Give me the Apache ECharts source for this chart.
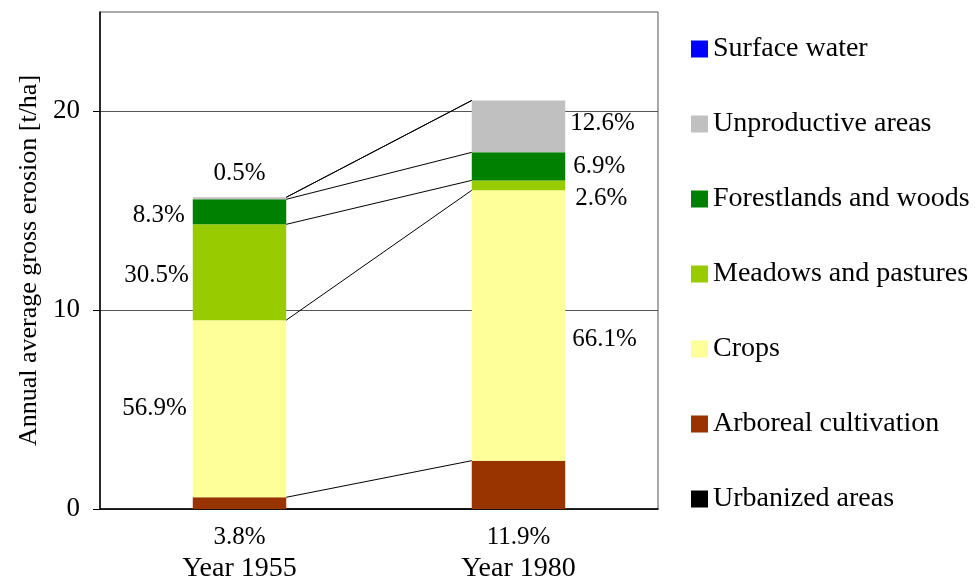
<!DOCTYPE html>
<html>
<head>
<meta charset="utf-8">
<script src="https://cdn.jsdelivr.net/npm/echarts@6/dist/echarts.min.js"></script>
<style>
  html, body { margin: 0; padding: 0; background: #fff; }
  #chart { width: 975px; height: 578px; }
</style>
</head>
<body>
<div id="chart"></div>
<script>
// categories
var years = ['Year 1955', 'Year 1980'];
var yTicks = [0, 10, 20];

// erosion per land use [t/ha], bottom to top of the stack
var urbanized = [0, 0];
var arboreal = [0.59, 2.43];
var crops = [8.91, 13.60];
var meadows = [4.82, 0.50];
var forest = [1.26, 1.41];
var unproductive = [0.10, 2.61];
var surfaceWater = [0, 0];

// percentage labels as printed
var arborealPct = ['3.8%', '11.9%'];
var cropsPct = ['56.9%', '66.1%'];
var meadowsPct = ['30.5%', '2.6%'];
var forestPct = ['8.3%', '6.9%'];
var unproductivePct = ['0.5%', '12.6%'];

var font = 'Liberation Serif, Times New Roman, serif';

var layers = [
  {name: 'Urbanized areas', data: urbanized, color: '#000000', pct: null},
  {name: 'Arboreal cultivation', data: arboreal, color: '#993300', pct: null},
  {name: 'Crops', data: crops, color: '#FFFF99', pct: cropsPct},
  {name: 'Meadows and pastures', data: meadows, color: '#99CC00', pct: meadowsPct},
  {name: 'Forestlands and woods', data: forest, color: '#008000', pct: forestPct},
  {name: 'Unproductive areas', data: unproductive, color: '#C0C0C0', pct: unproductivePct},
  {name: 'Surface water', data: surfaceWater, color: '#0000FF', pct: null}
];

// label placement per layer and year
var labelPlace = {
  'Crops': [{position: 'left', distance: 6, offset: [0, 0]}, {position: 'right', distance: 7, offset: [0, 14]}],
  'Meadows and pastures': [{position: 'left', distance: 4, offset: [0, 3]}, {position: 'right', distance: 10, offset: [0, 13]}],
  'Forestlands and woods': [{position: 'left', distance: 8, offset: [0, 4]}, {position: 'right', distance: 8, offset: [0, 0]}],
  'Unproductive areas': [{position: 'top', distance: 11, offset: [0, 0]}, {position: 'right', distance: 5, offset: [0, -3]}]
};

var halfBar = 0.1676; // half of bar width, in category units
var series = [];
var cum = [0, 0];

layers.forEach(function (l) {
  var data = l.data.map(function (v, i) {
    var item = {value: v};
    if (l.pct) {
      var p = labelPlace[l.name][i];
      item.label = {
        show: true,
        formatter: l.pct[i],
        position: p.position,
        distance: p.distance,
        offset: p.offset,
        color: '#000',
        fontSize: 25,
        fontFamily: font
      };
    }
    return item;
  });
  series.push({
    name: l.name,
    type: 'bar',
    stack: 'total',
    barWidth: '33.5%',
    itemStyle: {color: l.color},
    data: data
  });
  // connector from the top of this layer in 1955 to its top in 1980
  cum = [cum[0] + l.data[0], cum[1] + l.data[1]];
  series.push({
    name: l.name + ' link',
    type: 'line',
    xAxisIndex: 1,
    symbol: 'none',
    silent: true,
    lineStyle: {color: '#000', width: 1},
    data: [[0.5 + halfBar, cum[0]], [1.5 - halfBar, cum[1]]]
  });
});

var chart = echarts.init(document.getElementById('chart'));
chart.setOption({
  animation: false,
  textStyle: {fontFamily: font},
  grid: {
    left: 100, right: 317, top: 12, bottom: 69,
    outerBoundsMode: 'none',
    containLabel: false,
    show: true, borderColor: '#555', borderWidth: 1
  },
  legend: {
    orient: 'vertical',
    left: 686,
    top: 29,
    itemWidth: 17,
    itemHeight: 17,
    itemGap: 45,
    icon: 'rect',
    data: layers.map(function (l) { return l.name; }).reverse(),
    textStyle: {fontSize: 28, fontFamily: font, color: '#000', lineHeight: 30}
  },
  xAxis: [{
    type: 'category',
    data: years,
    axisLine: {lineStyle: {color: '#000', width: 1.5}},
    axisTick: {length: 7, lineStyle: {color: '#000'}},
    axisLabel: {
      margin: 12,
      formatter: function (v, i) {
        return '{p|' + arborealPct[i] + '}\n{y|' + v + '}';
      },
      rich: {
        p: {fontSize: 25, lineHeight: 32, fontFamily: font, color: '#000'},
        y: {fontSize: 28, lineHeight: 32, fontFamily: font, color: '#000'}
      }
    }
  }, {
    type: 'value',
    min: 0,
    max: 2,
    show: false
  }],
  yAxis: {
    type: 'value',
    min: 0,
    max: 25,
    interval: 10,
    name: 'Annual average gross erosion [t/ha]',
    nameLocation: 'middle',
    nameGap: 55,
    nameTextStyle: {fontSize: 26, fontFamily: font, color: '#000'},
    axisLine: {show: true, lineStyle: {color: '#000', width: 1.5}},
    axisTick: {show: true, length: 7, customValues: yTicks, lineStyle: {color: '#000'}},
    axisLabel: {margin: 20, fontSize: 27, fontFamily: font, color: '#000', customValues: yTicks},
    splitLine: {lineStyle: {color: '#555', width: 1}}
  },
  series: series
});
</script>
</body>
</html>
